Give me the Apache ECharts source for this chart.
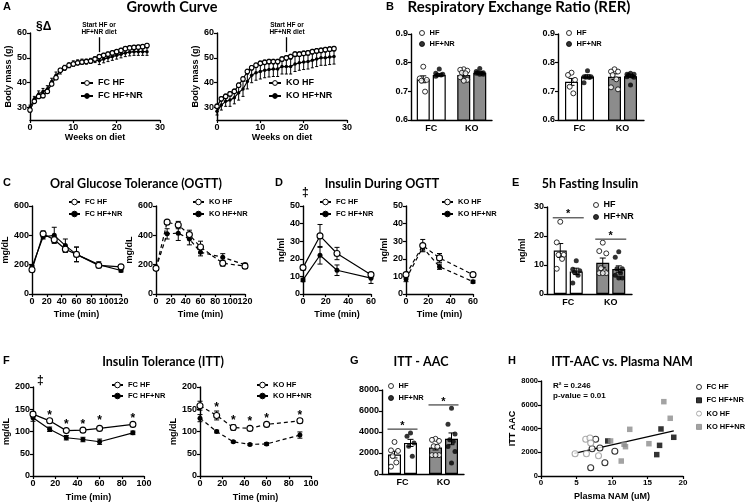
<!DOCTYPE html>
<html><head><meta charset="utf-8">
<script src="https://cdn.jsdelivr.net/npm/echarts@6/dist/echarts.min.js"></script>
<style>html,body{margin:0;padding:0;background:#fff}#c{width:749px;height:503px}</style>
</head><body><div id="c"></div>
<script>
// ---------------- DATA ----------------
// A: Growth curve
const weeks = [0,1,2,3,4,5,6,7,8,9,10,11,12,13,14,15,16,17,18,19,20,21,22,23,24,25,26,27];
const aFcHf = [29,32.5,34.5,34.8,36.5,39.5,42,45,46,47,47.5,48,48.3,48.5,48.7,49.5,50.5,51,51.5,52,52.5,53,53.7,54,54.2,54.3,54.5,55];
const aFcHfErr = [0.8,0.8,0.8,0.8,0.8,0.8,0.8,0.8,0.8,0.8,0.8,0.8,0.8,0.8,0.8,0.8,0.8,0.8,0.8,0.8,0.8,0.8,0.8,0.8,0.8,0.8,0.8,0.8];
const aFcNr = [30,33.5,35.5,36.5,37.5,40.5,43,44.5,46,47,47.8,48.2,48.5,48.5,48.8,49.3,48.8,49.5,50,50.5,51,51.5,52,52.3,52.5,52.5,52.5,52.5];
const aFcNrErr = [1,1,1.2,1.2,1.3,1.3,1.3,1,1,1,1,1,1,1,1,1.2,1.5,1.5,1.5,1.5,1.5,1.5,1.5,1.5,1.5,1.5,1.5,1.5];
const aKoHf = [30.5,33.5,34.5,35.5,36.5,39,41.5,44.5,46,47,47.8,48.2,48.5,48.5,48.5,49.5,50,50.5,51.5,51.5,51.8,52,52.5,52.8,53,53.3,53.5,53.7];
const aKoHfErr = [0.9,0.9,0.9,0.9,0.9,0.9,0.9,0.9,0.9,0.9,0.9,0.9,0.9,0.9,0.9,0.9,0.9,0.9,0.9,0.9,0.9,0.9,0.9,0.9,0.9,0.9,0.9,0.9];
const aKoNr = [28.5,31,32.5,33,34,36,37.5,40.5,43,44,44.5,45,45.3,45.5,45.5,46.5,46.5,46.5,47.5,48,48.3,48.5,49,49.5,50,50,50.3,50.5];
const aKoNrErr = [1.5,2,2,2.5,2.5,3,3,3,3,3,3,3,3,3,3,3,3,3,3,3,3,3,3,3,3,3,3,3];
const aYTicks = [30,40,50,60];
const dietStartWeek = 16;

// B: RER
const groups = ['FC','KO'];
const b1HfMean = [0.742,0.757], b1HfSem = [0.012,0.007];
const b1NrMean = [0.757,0.765], b1NrSem = [0.004,0.003];
const b1HfPts = [[0.786,0.745,0.740,0.737,0.699],[0.777,0.775,0.772,0.765,0.763,0.749,0.740,0.737]];
const b1NrPts = [[0.778,0.763,0.760,0.757,0.757,0.753],[0.780,0.769,0.765,0.765,0.763,0.763,0.760,0.760]];
const b2HfMean = [0.733,0.751], b2HfSem = [0.012,0.010];
const b2NrMean = [0.752,0.753], b2NrSem = [0.006,0.004];
const b2HfPts = [[0.765,0.757,0.740,0.716,0.693],[0.777,0.769,0.769,0.757,0.742,0.714,0.707]];
const b2NrPts = [[0.772,0.751,0.751,0.749,0.748,0.730],[0.763,0.760,0.760,0.757,0.753,0.751,0.749,0.722]];

// C: OGTT glucose
const cTime = [0,15,30,45,60,90,120];
const cFcHf = [165,410,370,305,270,195,185], cFcHfErr = [8,20,20,20,50,15,10];
const cFcNr = [185,390,400,330,270,200,160], cFcNrErr = [8,15,55,45,50,20,10];
const cKoHf = [175,490,470,405,320,210,190], cKoHfErr = [8,10,25,30,40,20,15];
const cKoNr = [175,410,415,375,285,250,200], cKoNrErr = [8,35,50,40,25,25,10];

// D: Insulin during OGTT
const dTime = [0,15,30,60];
const dFcHf = [15,33,23,11], dFcHfErr = [1.5,6.5,3.5,1];
const dFcNr = [8,22,13.5,9], dFcNrErr = [1,5,3,3];
const dKoHf = [11,27.5,20.5,11], dKoHfErr = [1,3.5,2.5,1];
const dKoNr = [8.5,26.5,15.5,7], dKoNrErr = [1.5,2,1.5,0.8];

// E: 5h fasting insulin
const eHfMean = [15,10.8], eHfSem = [2.4,1.6];
const eNrMean = [7.8,8.6], eNrSem = [1.1,1.1];
const eHfPts = [[24.9,17.8,13.5,13.5,12.1,8.7],[17.7,14.8,14,8.9,7.8,7.2,7.2,7.2]];
const eNrPts = [[11.5,8.5,8,7.5,6.5,3.8],[14.6,12.7,8.7,8.7,7.2,6.5,5.5,5.5]];
const eSigLine = [26.3,18.9], eSigStar = [28.6,21];

// F: ITT
const fTime = [0,15,30,45,60,90];
const fFcHf = [139,124,102,103,107,116], fFcHfErr = [5,5,3,3,3,3];
const fFcNr = [131,105,86,82,77,97], fFcNrErr = [8,5,5,5,6,4];
const fKoHf = [158,136,109,107,116,124], fKoHfErr = [10,10,6,3,3,5];
const fKoNr = [130,100,77,71,72,92], fKoNrErr = [8,3,2,2,3,7];
const fStarTime = [15,30,45,60,90];
const fStarFc = [143,121,122,130,135];
const fStarKo = [161,131,128,135,143];

// G: ITT-AAC
const gHfMean = [1850,2530], gHfSem = [320,240];
const gNrMean = [2960,3350], gNrSem = [340,560];
const gHfPts = [[3050,2250,2200,1700,1100,700],[3350,3250,3150,2650,2600,1800,1800,1800]];
const gNrPts = [[3900,3600,2950,2650,1700],[6270,4750,3800,3260,3100,2630,2150,1040]];
const gSigLine = [4270,6580], gSigStar = [4900,7150];

// H: ITT-AAC vs plasma NAM
const hFcHfX = [7.7,7.2,8.3,10.4,9.0,7.0], hFcHfY = [3090,2300,2360,2080,1120,700];
const hFcNrX = [9.4,16.9,16.7,18.7,16.3], hFcNrY = [2950,3960,2580,3260,1800];
const hKoHfX = [4.8,6.4,6.3,6.9,7.0,8.1], hKoHfY = [1880,1880,3090,3200,2780,1700];
const hKoNrX = [9.8,12.5,11.7,11.9,11.3,15.2,17.3,18.2], hKoNrY = [2950,3930,2670,2470,1260,2720,6260,4860];
const hFitX = [4.7,18.7], hFitY = [1900,3800];

// ---------------- BUILD ----------------
const F = "'Liberation Sans', Arial, sans-serif";
const TF = "Lato, 'Open Sans', sans-serif";
const KOG = '#8c8c8c';
const grid = [], xAxis = [], yAxis = [], series = [], legend = [], graphic = [];

function addGrid(l,t,w,h){ grid.push({left:l,top:t,width:w,height:h,containLabel:false,outerBoundsMode:'none'}); return grid.length-1; }
function tick(e){ return Object.assign({show:true,length:3,lineStyle:{color:'#000',width:1.2}}, e||{}); }
function lab(e){ return Object.assign({color:'#000',fontSize:9,fontWeight:'bold',fontFamily:F,margin:3,hideOverlap:false,formatter:v=>String(v)}, e||{}); }
function nameTS(){ return {color:'#000',fontSize:9,fontWeight:'bold',fontFamily:F}; }
function vAxis(g,min,max,interval,o){ o=o||{}; const a={type:'value',gridIndex:g,min:min,max:max,axisLine:{show:true,onZero:false,lineStyle:{color:'#000',width:1.4}},axisTick:tick(o.tick),axisLabel:lab(o.label),splitLine:{show:false},name:o.name||'',nameLocation:'middle',nameGap:o.gap||15,nameTextStyle:nameTS()}; if(interval!=null)a.interval=interval; if(o.rotate)a.nameRotate=o.rotate; return a; }
function cAxis(g,cats){ return {type:'category',gridIndex:g,data:cats,axisLine:{show:true,onZero:false,lineStyle:{color:'#000',width:1.4}},axisTick:{show:false},axisLabel:Object.assign(lab({margin:4}),{formatter:null}),splitLine:{show:false}}; }

function lineS(name,g,xs,ys,open,dashed,size){
  return {type:'line',name:name,xAxisIndex:g,yAxisIndex:g,data:xs.map((x,i)=>[x,ys[i]]),symbol:'circle',symbolSize:size,showSymbol:true,z:4,
    lineStyle:{color:'#000',width:1.2,type:dashed?[4,3]:'solid'},
    itemStyle:open?{color:'#fff',borderColor:'#000',borderWidth:1.1}:{color:'#000',borderColor:'#000',borderWidth:0},
    emphasis:{disabled:true},silent:true};
}
function errS(g,xs,ys,es,cap,dx){
  dx=dx||0;
  return {type:'custom',xAxisIndex:g,yAxisIndex:g,z:3,silent:true,data:xs.map((x,i)=>[x,ys[i],es[i]]),
    renderItem:function(p,api){ const x=api.value(0),y=api.value(1),e=api.value(2);
      const a=api.coord([x,y+e]), b=api.coord([x,y-e]); const st={stroke:'#000',lineWidth:1};
      const X=a[0]+dx;
      return {type:'group',children:[
        {type:'line',shape:{x1:X,y1:a[1],x2:X,y2:b[1]},style:st},
        {type:'line',shape:{x1:X-cap,y1:a[1],x2:X+cap,y2:a[1]},style:st},
        {type:'line',shape:{x1:X-cap,y1:b[1],x2:X+cap,y2:b[1]},style:st}]}; }};
}
function starS(g,xs,ys,size){
  return {type:'custom',xAxisIndex:g,yAxisIndex:g,z:6,silent:true,data:xs.map((x,i)=>[x,ys[i]]),
    renderItem:function(p,api){ const c=api.coord([api.value(0),api.value(1)]);
      return {type:'text',x:c[0],y:c[1]+3,style:{text:'*',fill:'#000',font:'bold '+(size||12)+"px 'Liberation Sans'",align:'center',verticalAlign:'middle'}}; }};
}
function sigS(g,ys,half){
  return {type:'custom',xAxisIndex:g,yAxisIndex:g,z:5,silent:true,data:ys.map((y,i)=>[i,y]),
    renderItem:function(p,api){ const c=api.coord([api.value(0),api.value(1)]);
      return {type:'line',shape:{x1:c[0]-half,y1:c[1],x2:c[0]+half,y2:c[1]},style:{stroke:'#666',lineWidth:1.5}}; }};
}
function addLegend(names,left,top,fs,lh,gap,o){
  legend.push(Object.assign({selectedMode:false,orient:'vertical',left:left,top:top,padding:0,data:names,
    formatter:function(n){return n.split('|')[0];},itemStyle:{borderWidth:1},
    textStyle:{color:'#000',fontSize:fs,lineHeight:lh,fontWeight:'bold',fontFamily:F},itemWidth:12,itemHeight:6,itemGap:gap},o||{}));
}
function txt(t,x,y,size,o){ graphic.push({type:'text',x:x,y:y,silent:true,style:Object.assign({text:t,fill:'#000',font:'bold '+size+'px '+F,align:'left',verticalAlign:'middle'},o||{})}); }
function title(t,x,y,size){ graphic.push({type:'text',x:x,y:y,silent:true,style:{text:t,fill:'#000',font:'bold '+(size||12.5)+'px '+TF,align:'center',verticalAlign:'middle'}}); }

function jit(i){ return [0,-3.5,3.5,-1.8,1.8,-3.5,3.5,0][i%8]; }
function barPanel(g,tag,hfM,hfS,nrM,nrS,hfP,nrP,barW,gapPx,ptSize){
  const off=(barW+gapPx)/2;
  series.push({type:'bar',name:'hfbar'+tag,xAxisIndex:g,yAxisIndex:g,barWidth:barW,barGap:(gapPx/barW*100)+'%',z:2,silent:true,
    data:hfM.map((v,i)=>({value:v,itemStyle:{color:i===0?'#fff':KOG}})),itemStyle:{borderColor:'#000',borderWidth:1.2}});
  series.push({type:'bar',name:'nrbar'+tag,xAxisIndex:g,yAxisIndex:g,barWidth:barW,barGap:(gapPx/barW*100)+'%',z:2,silent:true,
    data:nrM.map((v,i)=>({value:v,itemStyle:{color:i===0?'#fff':KOG}})),itemStyle:{borderColor:'#000',borderWidth:1.2}});
  const hfData=[], nrData=[];
  hfP.forEach((arr,c)=>arr.forEach((v,i)=>hfData.push({value:[c,v],symbolOffset:[-off+jit(i),0]})));
  nrP.forEach((arr,c)=>arr.forEach((v,i)=>nrData.push({value:[c,v],symbolOffset:[off+jit(i),0]})));
  series.push({type:'scatter',name:'HF|'+tag,xAxisIndex:g,yAxisIndex:g,z:4,symbol:'circle',symbolSize:ptSize,silent:true,
    itemStyle:{color:'#fff',borderColor:'#000',borderWidth:1},data:hfData});
  series.push({type:'scatter',name:'HF+NR|'+tag,xAxisIndex:g,yAxisIndex:g,z:4,symbol:'circle',symbolSize:ptSize,silent:true,
    itemStyle:{color:'#000',borderColor:'#000',borderWidth:0},data:nrData});
  series.push(errS(g,[0,1],hfM,hfS,3,-off));
  series.push(errS(g,[0,1],nrM,nrS,3,off));
}
const dotLeg = {itemWidth:5,itemHeight:5};

// ---- grids
const gA1=addGrid(30,33,130,87), gA2=addGrid(217,33,130,87);
const gB1=addGrid(411,34,81,86), gB2=addGrid(558,34,86,86);
const gC1=addGrid(32,206,89,88), gC2=addGrid(156,206,89,88);
const gD1=addGrid(303,206,68,88), gD2=addGrid(406,206,67,88);
const gE=addGrid(547,207,85,87);
const gF1=addGrid(33,387,111,89), gF2=addGrid(200,387,111,89);
const gG=addGrid(382,390,82,84);
const gH=addGrid(541,381,142,95);

// ---- axes
[[gA1,15],[gA2,14.5]].forEach(([g,gap])=>{
  xAxis.push(vAxis(g,0,30,10,{name:'Weeks on diet',gap:13}));
  yAxis.push(vAxis(g,25,60,null,{label:{customValues:aYTicks},tick:{customValues:aYTicks},name:'Body mass (g)',gap:gap,rotate:90}));
});
[gB1,gB2].forEach(g=>{ xAxis.push(cAxis(g,groups)); yAxis.push(vAxis(g,0.6,0.9,0.1,{label:{formatter:v=>v.toFixed(1)}})); });
[[gC1,15.5],[gC2,18.5]].forEach(([g,gap])=>{ xAxis.push(vAxis(g,0,120,20,{name:'Time (min)',gap:16})); yAxis.push(vAxis(g,0,600,200,{name:'mg/dL',gap:gap,rotate:90})); });
[[gD1,15.5],[gD2,16.5]].forEach(([g,gap])=>{ xAxis.push(vAxis(g,0,60,20,{name:'Time (min)',gap:16})); yAxis.push(vAxis(g,0,50,10,{name:'ng/ml',gap:gap,rotate:90})); });
xAxis.push(cAxis(gE,groups)); yAxis.push(vAxis(gE,0,30,10,{name:'ng/ml',gap:19.5,rotate:90}));
[[gF1,16.5],[gF2,18.5]].forEach(([g,gap])=>{ xAxis.push(vAxis(g,0,100,20,{name:'Time (min)',gap:17})); yAxis.push(vAxis(g,0,200,50,{name:'mg/dL',gap:gap,rotate:90})); });
xAxis.push(cAxis(gG,groups)); yAxis.push(vAxis(gG,0,8000,2000));
xAxis.push(vAxis(gH,0,20,5,{name:'Plasma NAM (uM)',gap:16,label:{fontSize:8}}));
yAxis.push(vAxis(gH,0,8000,2000,{name:'ITT AAC',gap:20,rotate:90,label:{fontSize:7.5}}));

// ---- A series
series.push(errS(gA1,weeks,aFcNr,aFcNrErr,1.5));
series.push(errS(gA1,weeks,aFcHf,aFcHfErr,1.5));
series.push(lineS('FC HF+NR|A',gA1,weeks,aFcNr,false,false,3.5));
const aFcHfS=lineS('FC HF|A',gA1,weeks,aFcHf,true,false,4.5);
aFcHfS.markLine={silent:true,symbol:['none','arrow'],symbolSize:[0,7],label:{show:false},lineStyle:{color:'#000',width:1.3,type:'solid'},
  data:[[{coord:[dietStartWeek,58.3]},{coord:[dietStartWeek,52.3]}]]};
series.push(aFcHfS);
series.push(errS(gA2,weeks,aKoNr,aKoNrErr,1.5));
series.push(errS(gA2,weeks,aKoHf,aKoHfErr,1.5));
series.push(lineS('KO HF+NR|A',gA2,weeks,aKoNr,false,false,3.5));
const aKoHfS=lineS('KO HF|A',gA2,weeks,aKoHf,true,false,4.5);
aKoHfS.markLine={silent:true,symbol:['none','arrow'],symbolSize:[0,7],label:{show:false},lineStyle:{color:'#000',width:1.3,type:'solid'},
  data:[[{coord:[dietStartWeek,58.3]},{coord:[dietStartWeek,52.3]}]]};
series.push(aKoHfS);
addLegend(['FC HF|A','FC HF+NR|A'],80,78,9,10,3);
addLegend(['KO HF|A','KO HF+NR|A'],268,78,9,10,3);

// ---- B
barPanel(gB1,'B1',b1HfMean,b1HfSem,b1NrMean,b1NrSem,b1HfPts,b1NrPts,13,3,5);
barPanel(gB2,'B2',b2HfMean,b2HfSem,b2NrMean,b2NrSem,b2HfPts,b2NrPts,13,3,5);
addLegend(['HF|B1','HF+NR|B1'],419,29,7.5,8,3,dotLeg);
addLegend(['HF|B2','HF+NR|B2'],566,29,7.5,8,3,dotLeg);

// ---- C
[[gC1,'FC',cFcHf,cFcHfErr,cFcNr,cFcNrErr,false],[gC2,'KO',cKoHf,cKoHfErr,cKoNr,cKoNrErr,true]].forEach(([g,k,hf,hfe,nr,nre,d])=>{
  series.push(errS(g,cTime,hf,hfe,2.5)); series.push(errS(g,cTime,nr,nre,2.5));
  series.push(lineS(k+' HF+NR|C',g,cTime,nr,false,d,5));
  series.push(lineS(k+' HF|C',g,cTime,hf,true,d,6));
});
addLegend(['FC HF|C','FC HF+NR|C'],68,198,7.5,8,4,{itemHeight:7,itemWidth:11});
addLegend(['KO HF|C','KO HF+NR|C'],192,198,7.5,8,4,{itemHeight:7,itemWidth:11});

// ---- D
[[gD1,'FC',dFcHf,dFcHfErr,dFcNr,dFcNrErr,false],[gD2,'KO',dKoHf,dKoHfErr,dKoNr,dKoNrErr,true]].forEach(([g,k,hf,hfe,nr,nre,d])=>{
  series.push(errS(g,dTime,hf,hfe,2.5)); series.push(errS(g,dTime,nr,nre,2.5));
  series.push(lineS(k+' HF+NR|D',g,dTime,nr,false,d,5));
  series.push(lineS(k+' HF|D',g,dTime,hf,true,d,6));
});
addLegend(['FC HF|D','FC HF+NR|D'],319,198,7.5,8,4,{itemHeight:7,itemWidth:11});
addLegend(['KO HF|D','KO HF+NR|D'],441,198,7.5,8,4,{itemHeight:7,itemWidth:11});

// ---- E
barPanel(gE,'E',eHfMean,eHfSem,eNrMean,eNrSem,eHfPts,eNrPts,13,3,5);
series.push(sigS(gE,eSigLine,15.5));
series.push(starS(gE,[0,1],eSigStar,11));
addLegend(['HF|E','HF+NR|E'],593,200,9,10,2,dotLeg);

// ---- F
[[gF1,'FC',fFcHf,fFcHfErr,fFcNr,fFcNrErr,false,fStarFc],[gF2,'KO',fKoHf,fKoHfErr,fKoNr,fKoNrErr,true,fStarKo]].forEach(([g,k,hf,hfe,nr,nre,d,st])=>{
  series.push(errS(g,fTime,hf,hfe,2.5)); series.push(errS(g,fTime,nr,nre,2.5));
  series.push(lineS(k+' HF+NR|F',g,fTime,nr,false,d,5));
  series.push(lineS(k+' HF|F',g,fTime,hf,true,d,6));
  series.push(starS(g,fStarTime,st,12));
});
addLegend(['FC HF|F','FC HF+NR|F'],111,381,7.5,8,3,{itemHeight:7,itemWidth:11});
addLegend(['KO HF|F','KO HF+NR|F'],256,381,7.5,8,3,{itemHeight:7,itemWidth:11});

// ---- G
barPanel(gG,'G',gHfMean,gHfSem,gNrMean,gNrSem,gHfPts,gNrPts,13,3,5);
series.push(sigS(gG,gSigLine,15));
series.push(starS(gG,[0,1],gSigStar,11));
addLegend(['HF|G','HF+NR|G'],388,382,7.5,8,4,dotLeg);

// ---- H
function hS(name,xs,ys,sym,fill,stroke){ return {type:'scatter',name:name,xAxisIndex:gH,yAxisIndex:gH,z:4,silent:true,symbol:sym,symbolSize:sym==='rect'?5.5:6,
  itemStyle:{color:fill,borderColor:stroke,borderWidth:sym==='rect'?0:1.1},data:xs.map((x,i)=>[x,ys[i]])}; }
series.push({type:'line',name:'fit',xAxisIndex:gH,yAxisIndex:gH,z:3,silent:true,symbol:'none',lineStyle:{color:'#000',width:1.2},data:hFitX.map((x,i)=>[x,hFitY[i]])});
series.push(hS('FC HF|H',hFcHfX,hFcHfY,'circle','#fff','#000'));
series.push(hS('FC HF+NR|H',hFcNrX,hFcNrY,'rect','#000','#000'));
series.push(hS('KO HF|H',hKoHfX,hKoHfY,'circle','#fff','#999'));
series.push(hS('KO HF+NR|H',hKoNrX,hKoNrY,'rect','#8c8c8c','#8c8c8c'));
addLegend(['FC HF|H','FC HF+NR|H','KO HF|H','KO HF+NR|H'],696,383,7.5,8,5.3,{itemWidth:5,itemHeight:5});

// ---- texts
txt('A',3,7,11); title('Growth Curve',172,7,14.5);
txt('B',386,7,11); title('Respiratory Exchange Ratio (RER)',519,7,15);
txt('C',3,183,11); title('Oral Glucose Tolerance (OGTT)',136,184);
txt('D',275,183,11); title('Insulin During OGTT',382,184);
txt('E',512,183,11); title('5h Fasting Insulin',590,184);
txt('F',3,361,11); title('Insulin Tolerance (ITT)',163,362);
txt('G',350,361,11); title('ITT - AAC',421,362);
txt('H',508,361,11); title('ITT-AAC vs. Plasma NAM',622,362);
txt('§Δ',36,27,12);
txt('Start HF or',99,25,6.5,{align:'center'}); txt('HF+NR diet',99,32,6.5,{align:'center'});
txt('Start HF or',287,25,6.5,{align:'center'}); txt('HF+NR diet',287,32,6.5,{align:'center'});
txt('‡',302,193,12); txt('‡',37,381,12);
txt('R² = 0.246',553,386,8); txt('p-value = 0.01',553,396,8);

const chart = echarts.init(document.getElementById('c'), null, {renderer:'canvas'});
chart.setOption({animation:false,backgroundColor:'#fff',grid:grid,xAxis:xAxis,yAxis:yAxis,series:series,legend:legend,graphic:graphic});
</script></body></html>
